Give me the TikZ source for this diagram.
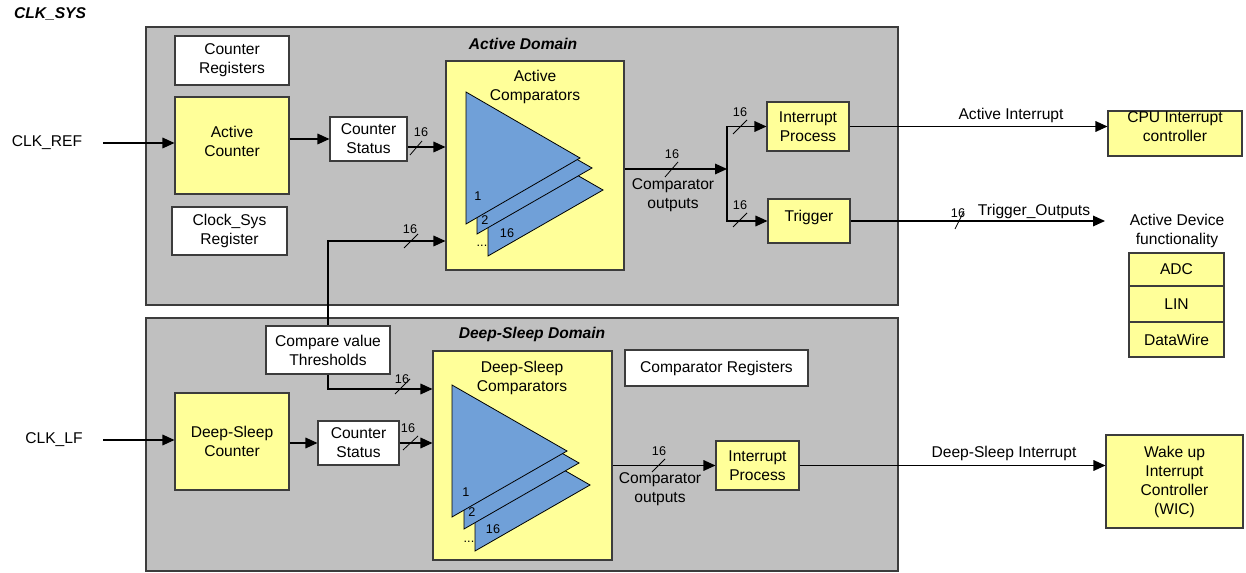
\documentclass[tikz,border=0pt]{standalone}
\usepackage{fontspec}
\setmainfont{Liberation Sans}
\usetikzlibrary{arrows.meta}
\definecolor{domgray}{RGB}{192,192,192}
\definecolor{boxyel}{RGB}{255,255,153}
\definecolor{tricol}{RGB}{112,160,216}
\definecolor{edgecol}{RGB}{60,60,60}
\begin{document}
\begin{tikzpicture}[x=0.75pt,y=-0.75pt,
  every node/.style={font=\fontsize{11.7}{14.25}\selectfont, align=center, inner sep=0pt},
  span/.style n args={4}{minimum width={(#3-#1)*0.75pt}, minimum height={(#4-#2)*0.75pt},
     at={({(#1+#3)/2},{(#2+#4)/2})}},
  box/.style={draw=edgecol, line width=0.8pt, inner sep=0pt, rectangle},
  ybox/.style={box, fill=boxyel},
  wbox/.style={box, fill=white},
  dom/.style={draw=edgecol, fill=domgray, line width=0.9pt, inner sep=0pt, rectangle},
  bus/.style={draw=black, line width=0.9pt, -{Triangle[length=9pt,width=8pt]}},
  num/.style={font=\fontsize{9.5}{11}\selectfont},
  ttl/.style={font=\fontsize{11.7}{14}\selectfont\bfseries\itshape},
  tri/.style={draw=black, fill=tricol, line width=0.6pt},
  slash/.style={line width=0.6pt}
]
\useasboundingbox (0,0) rectangle (1246,573);

% domains
\node[dom, span={146}{27}{898}{305}] (adom) {};
\node[dom, span={146}{318}{898}{571}] (ddom) {};
\node[ttl] (clksys) at (50,14) {CLK\_SYS};
\node[ttl] (adomt) at (523,44) {Active Domain};
\node[ttl] (ddomt) at (532,334) {Deep-Sleep Domain};

% active domain boxes
\node[wbox, span={175}{36}{289}{85}] (creg) {Counter\\Registers};
\node[ybox, span={175}{97}{289}{194}] (acnt) {};
\node (acntt) at (232,141.5) {Active\\Counter};
\node[wbox, span={172}{207}{287}{255}] (csreg) {Clock\_Sys\\Register};
\node[wbox, span={330}{117}{407}{161}] (acs) {Counter\\Status};
\node[ybox, span={446}{61}{624}{270}] (acomp) {};
\node (acompt) at (535,87) {Active\\Comparators};
\node[ybox, span={767}{102}{849}{151}] (aip) {Interrupt\\Process};
\node[ybox, span={768}{199}{850}{243}] (trig) {};
\node (trigt) at (809,217) {Trigger};

% active triangles
\draw[tri] (488,124) -- (488,256) -- (603,190) -- cycle;
\draw[tri] (477,102) -- (477,234) -- (592,168) -- cycle;
\draw[tri] (466,92) -- (466,224) -- (580,158) -- cycle;
\node[num] (at1) at (478,196) {1};
\node[num] (at2) at (485,220) {2};
\node[num] (at16) at (507,233) {16};
\node[num, anchor=base] (atd) at (482,246.5) {...};

% right side
\node[ybox, span={1108}{111}{1242}{156}] (cpu) {};
\node (cput) at (1175,126.5) {CPU Interrupt\\controller};
\node (adf) at (1177,230.5) {Active Device\\functionality};
\node[ybox, span={1129}{253}{1224}{286}] (adc) {ADC};
\node[ybox, span={1129}{286}{1224}{322}] (lin) {LIN};
\node[ybox, span={1129}{322}{1224}{357}] (dw) {DataWire};
\node[ybox, span={1106}{435}{1243}{528}] (wic) {Wake up\\Interrupt\\Controller\\(WIC)};

% deep-sleep boxes
\node[wbox, span={266}{326}{390}{374}] (cmp) {Compare value\\Thresholds};
\node[ybox, span={175}{393}{289}{490}] (dcnt) {Deep-Sleep\\Counter};
\node[wbox, span={318}{421}{399}{465}] (dcs) {Counter\\Status};
\node[ybox, span={433}{351}{612}{560}] (dcomp) {};
\node (dcompt) at (522,377.5) {Deep-Sleep\\Comparators};
\node[wbox, span={625}{350}{808}{386}] (creg2) {Comparator Registers};
\node[ybox, span={716}{441}{799}{490}] (dip) {Interrupt\\Process};

% deep-sleep triangles
\draw[tri] (475,419) -- (475,551) -- (590,485) -- cycle;
\draw[tri] (464,397) -- (464,529) -- (579,463) -- cycle;
\draw[tri] (452,385) -- (452,517) -- (567,451) -- cycle;
\node[num] (dt1) at (466,492) {1};
\node[num] (dt2) at (472,512) {2};
\node[num] (dt16) at (493,529) {16};
\node[num, anchor=base] (dtd) at (469,542.5) {...};

% clock inputs
\node (clkref) at (47,143) {CLK\_REF};
\node (clklf) at (54,440) {CLK\_LF};
\coordinate (clkrefs) at (103,143);
\coordinate (clklfs) at (103,440);
\draw[bus] (clkrefs) -- (acnt.west |- clkrefs);
\draw[bus] (clklfs) -- (dcnt.west |- clklfs);

% active connectors
\draw[bus] (acnt.east |- acs) -- (acs.west);
\draw[bus] (acs.east |- 0,147) -- (acomp.west |- 0,147);
\draw[slash] (410,155) -- (422,141);
\node[num] (b1) at (421,132) {16};

\draw[bus] (cmp.north) |- (acomp.west |- 0,241);
\draw[slash] (404,248) -- (418,234);
\node[num] (b2) at (410,229) {16};

\coordinate (br) at (727,169);
\draw[bus] (acomp.east |- br) -- (br);
\draw[slash] (665,177) -- (678,162);
\node[num] (b3) at (672,154) {16};
\node (aco) at (673,195.5) {Comparator\\outputs};

\draw[bus] (br) |- (aip.west);
\draw[slash] (733,134) -- (747,120);
\node[num] (b4) at (740,112) {16};
\draw[bus] (br) |- (trig.west);
\draw[slash] (733,227) -- (747,213);
\node[num] (b5) at (740,205) {16};

\draw[bus] (aip.east) -- (cpu.west |- aip.east);
\node (aint) at (1011,115) {Active Interrupt};

\coordinate (tout) at (1105,221);
\draw[bus] (trig.east) -- (tout);
\draw[slash] (955,229) -- (964,211);
\node[num] (b6) at (958,213) {16};
\node (toutt) at (1034,211) {Trigger\_Outputs};

% deep-sleep connectors
\draw[bus] (cmp.south) |- (dcomp.west |- 0,389);
\draw[slash] (395,394) -- (410,379);
\node[num] (b7) at (402,379) {16};

\draw[bus] (dcnt.east |- dcs) -- (dcs.west);
\draw[bus] (dcs.east) -- (dcomp.west |- dcs.east);
\draw[slash] (403,450) -- (418,436);
\node[num] (b8) at (408,428) {16};

\draw[bus] (dcomp.east |- dip) -- (dip.west);
\draw[slash] (652,472) -- (665,459);
\node[num] (b9) at (659,451) {16};
\node (dco) at (660,489.5) {Comparator\\outputs};

\draw[bus] (dip.east) -- (wic.west |- dip.east);
\node (dint) at (1004,453) {Deep-Sleep Interrupt};
\end{tikzpicture}
\end{document}
